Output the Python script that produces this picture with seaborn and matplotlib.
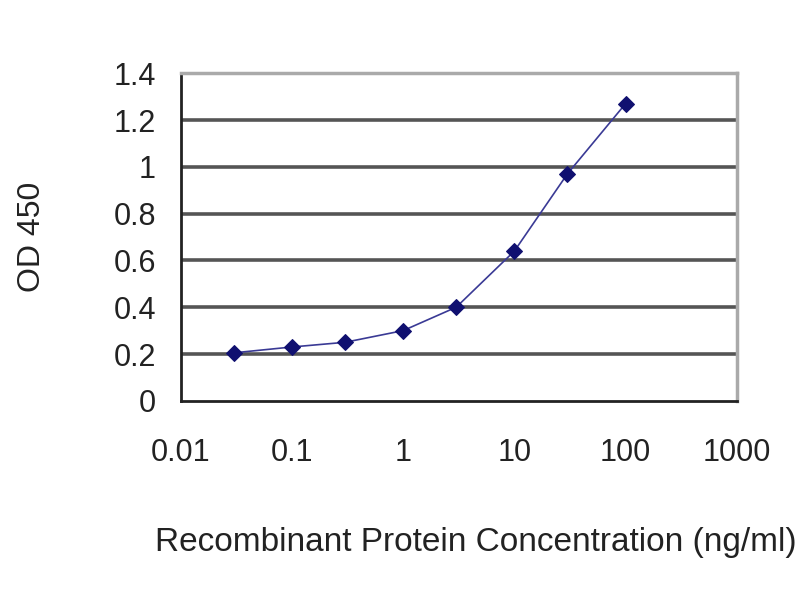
import numpy as np
import pandas as pd
import seaborn as sns
from matplotlib import pyplot as plt
from matplotlib.ticker import NullLocator

# values
conc = [0.03, 0.1, 0.3, 1, 3, 10, 30, 100]
od450 = [0.205, 0.23, 0.25, 0.30, 0.40, 0.64, 0.97, 1.27]
x_ticks = [0.01, 0.1, 1, 10, 100, 1000]
x_labels = ["0.01", "0.1", "1", "10", "100", "1000"]
y_ticks = [0, 0.2, 0.4, 0.6, 0.8, 1, 1.2, 1.4]
y_labels = ["0", "0.2", "0.4", "0.6", "0.8", "1", "1.2", "1.4"]

sns.set_style("white")
plt.rcParams['font.family'] = ['Liberation Sans', 'DejaVu Sans']

df = pd.DataFrame({"conc": conc, "od": od450})

fig = plt.figure(figsize=(8, 6), dpi=100)
ax = fig.add_axes([0.226, 0.332, 0.695, 0.546])

ax.set_xscale("log")
ax.set_xlim(0.01, 1000)
ax.set_ylim(0, 1.4)

# horizontal grid lines
for y in y_ticks[1:-1]:
    ax.axhline(y, color="#555555", lw=2.6, zorder=1)

sns.lineplot(data=df, x="conc", y="od", ax=ax, color="#3a3a95", lw=1.2,
             marker="D", markersize=8.5, markerfacecolor="#101070",
             markeredgecolor="#101070", zorder=3)

ax.set_xticks(x_ticks)
ax.set_xticklabels(x_labels)
ax.xaxis.set_minor_locator(NullLocator())
ax.set_yticks(y_ticks)
ax.set_yticklabels(y_labels)

ax.tick_params(axis="x", direction="in", length=7, width=1.5, color="#222222",
               labelsize=22, pad=27, labelcolor="#222222")
ax.tick_params(axis="y", length=0, labelsize=22, pad=18, labelcolor="#222222")

for side in ["left", "bottom"]:
    ax.spines[side].set_color("#222222")
    ax.spines[side].set_linewidth(2)
for side in ["top", "right"]:
    ax.spines[side].set_color("#aaaaaa")
    ax.spines[side].set_linewidth(2.5)

ax.set_xlabel("Recombinant Protein Concentration (ng/ml)", fontsize=24,
              color="#222222", labelpad=42)
ax.xaxis.label.set_x(0.53)
ax.set_ylabel("OD 450", fontsize=23, color="#222222", labelpad=48)

fig.savefig("out.png", dpi=100, facecolor="white")
